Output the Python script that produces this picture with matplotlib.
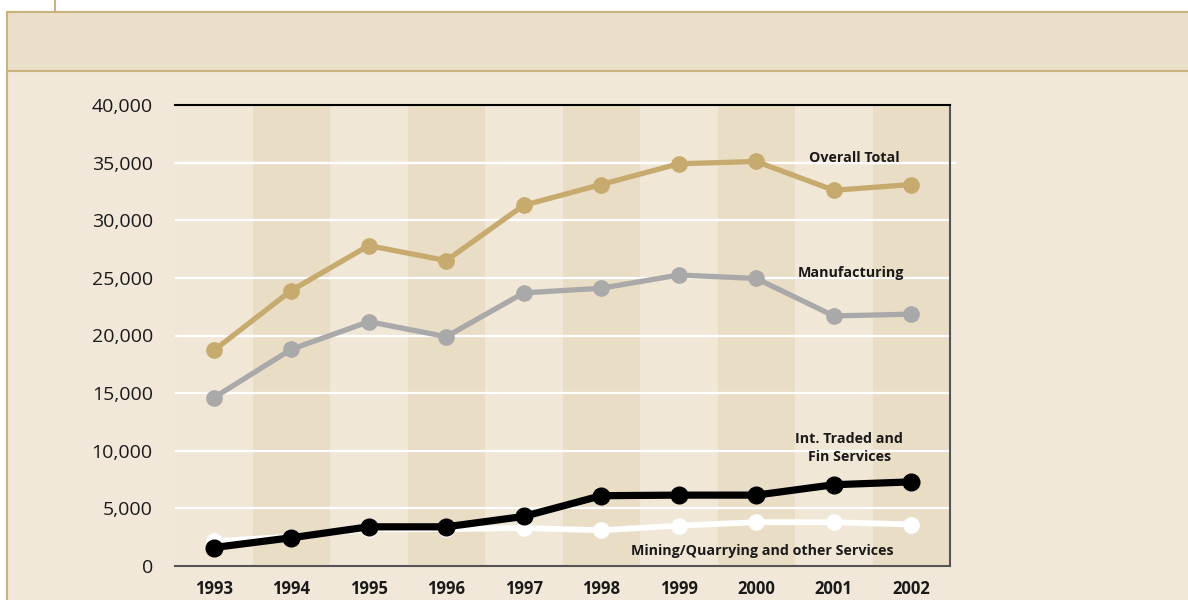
import matplotlib.pyplot as plt
from matplotlib.patches import Rectangle
from matplotlib.lines import Line2D

# data
years = ["1993", "1994", "1995", "1996", "1997", "1998", "1999", "2000", "2001", "2002"]
overall_total = [18700, 23900, 27800, 26500, 31300, 33100, 34900, 35100, 32600, 33100]
manufacturing = [14600, 18800, 21200, 19900, 23700, 24100, 25250, 24950, 21700, 21850]
int_traded_fin = [1600, 2450, 3400, 3400, 4300, 6100, 6150, 6150, 7050, 7300]
mining_other = [2150, 2550, 3200, 3200, 3300, 3100, 3500, 3800, 3800, 3600]
y_ticks = [0, 5000, 10000, 15000, 20000, 25000, 30000, 35000, 40000]

bg = "#F1E8D9"
band_light = "#F0E7D7"
band_dark = "#EADDC6"
gold = "#C7AB6E"
grey = "#A9A9A9"
border = "#C9B27C"

plt.rcParams["font.family"] = ["Open Sans", "DejaVu Sans"]

fig = plt.figure(figsize=(11.88, 6), dpi=100)
fig.patch.set_facecolor("white")

W, H = 1188, 600
def fx(px):
    return px / W
def fy(py):
    return 1 - py / H

# page background and header strip (drawn behind the axes)
fig.patches.append(Rectangle((fx(7), 0), 1 - fx(7), fy(12), transform=fig.transFigure,
                             facecolor=bg, edgecolor="none", zorder=-2))
fig.patches.append(Rectangle((fx(7), fy(71)), 1 - fx(7), fy(12) - fy(71), transform=fig.transFigure,
                             facecolor="#EBDFC9", edgecolor="none", zorder=-1))
fig.lines.append(Line2D([fx(7), 1], [fy(12), fy(12)], transform=fig.transFigure, color=border, lw=1.5))
fig.lines.append(Line2D([fx(7), 1], [fy(71), fy(71)], transform=fig.transFigure, color=border, lw=1.5))
fig.lines.append(Line2D([fx(7), fx(7)], [0, fy(12)], transform=fig.transFigure, color=border, lw=1.5))
fig.lines.append(Line2D([fx(55), fx(55)], [fy(12), 1], transform=fig.transFigure, color=border, lw=1.5))

ax = fig.add_axes([fx(175), fy(566), fx(950) - fx(175), fy(105) - fy(566)])
ax.set_facecolor(band_light)

x = list(range(len(years)))
for i in x:
    ax.axvspan(i - 0.5, i + 0.5, color=band_dark if i % 2 else band_light, lw=0, zorder=0)

for v in y_ticks[1:-1]:
    ax.axhline(v, color="white", lw=1.6, zorder=1)
# the 35,000 rule pokes out a little past the right frame
ax.plot([-0.5, 9.57], [35000, 35000], color="white", lw=1.6, zorder=1, clip_on=False)

ax.plot(x, mining_other, color="white", lw=4.2, marker="o", ms=11, zorder=3)
ax.plot(x, int_traded_fin, color="black", lw=5.2, marker="o", ms=12, zorder=4)
ax.plot(x, manufacturing, color=grey, lw=3.8, marker="o", ms=11, zorder=5)
ax.plot(x, overall_total, color=gold, lw=3.8, marker="o", ms=11, zorder=6)

ax.set_xlim(-0.5, len(years) - 0.5)
ax.set_ylim(0, 40000)
ax.set_yticks(y_ticks)
ax.set_yticklabels(["{:,}".format(v) for v in y_ticks], fontsize=14, color="#1a1a1a")
ax.set_xticks(x)
ax.set_xticklabels(years, fontsize=12, fontweight="bold", color="#1a1a1a")
ax.tick_params(axis="both", length=0)
ax.tick_params(axis="y", pad=16)
ax.tick_params(axis="x", pad=10)

ax.spines["left"].set_visible(False)
ax.spines["top"].set_color("black")
ax.spines["top"].set_linewidth(1.5)
ax.spines["right"].set_color("#555555")
ax.spines["right"].set_linewidth(1.5)
ax.spines["bottom"].set_color("#555555")
ax.spines["bottom"].set_linewidth(1.5)

lab = dict(fontsize=10.3, fontweight="bold", color="#1a1a1a", ha="center", va="center", zorder=7)
ax.text(8.27, 35400, "Overall Total", **lab)
ax.text(8.22, 25400, "Manufacturing", **lab)
ax.text(8.2, 10250, "Int. Traded and\nFin Services", linespacing=1.4, **lab)
ax.text(7.08, 1300, "Mining/Quarrying and other Services", **lab)

fig.savefig("out.png", dpi=100, facecolor=fig.get_facecolor())
